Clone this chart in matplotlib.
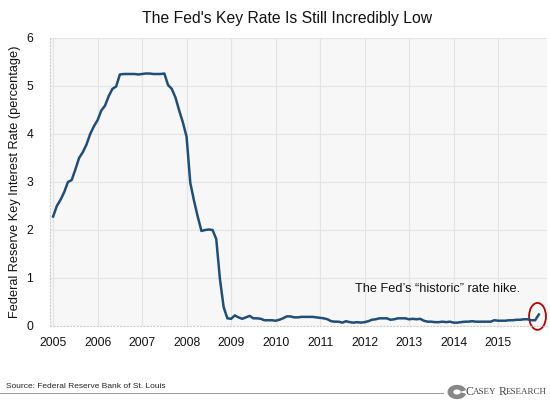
import matplotlib
matplotlib.use("Agg")
import matplotlib.pyplot as plt
from matplotlib.patches import Ellipse, Wedge
import numpy as np

plt.rcParams['font.family'] = ['Liberation Sans', 'DejaVu Sans']

years = [2005, 2006, 2007, 2008, 2009, 2010, 2011, 2012, 2013, 2014, 2015]
rates = [
    2.28, 2.50, 2.63, 2.79, 3.00, 3.04, 3.26, 3.50, 3.62, 3.78, 4.00, 4.16,
    4.29, 4.49, 4.59, 4.79, 4.94, 4.99, 5.24, 5.25, 5.25, 5.25, 5.25, 5.24,
    5.25, 5.26, 5.26, 5.25, 5.25, 5.25, 5.26, 5.02, 4.94, 4.76, 4.49, 4.24,
    3.94, 2.98, 2.61, 2.28, 1.98, 2.00, 2.01, 2.00, 1.81, 0.97, 0.39, 0.16,
    0.15, 0.22, 0.18, 0.15, 0.18, 0.21, 0.16, 0.16, 0.15, 0.12, 0.12, 0.12,
    0.11, 0.13, 0.16, 0.20, 0.20, 0.18, 0.18, 0.19, 0.19, 0.19, 0.19, 0.18,
    0.17, 0.16, 0.14, 0.10, 0.09, 0.09, 0.07, 0.10, 0.08, 0.07, 0.08, 0.07,
    0.08, 0.10, 0.13, 0.14, 0.16, 0.16, 0.16, 0.13, 0.14, 0.16, 0.16, 0.16,
    0.14, 0.15, 0.14, 0.15, 0.11, 0.09, 0.09, 0.08, 0.08, 0.09, 0.08, 0.09,
    0.07, 0.07, 0.08, 0.09, 0.09, 0.10, 0.09, 0.09, 0.09, 0.09, 0.09, 0.12,
    0.11, 0.11, 0.11, 0.12, 0.12, 0.13, 0.13, 0.14, 0.14, 0.12, 0.12, 0.24,
]
dates = 2005 + np.arange(len(rates)) / 12.0
yticks = [0, 1, 2, 3, 4, 5, 6]

W, H = 550, 401
fig = plt.figure(figsize=(W / 100, H / 100), dpi=100)
fig.patch.set_facecolor('white')

left, right, top, bottom = 50, 547, 38, 326
ax = fig.add_axes([left / W, 1 - bottom / H, (right - left) / W, (bottom - top) / H])
ax.set_facecolor('#f7f7f7')
ax.plot(dates, rates, color='#1f4e79', lw=1.8, solid_joinstyle='round')
ax.set_xlim(2004.93, 2016.1)
ax.set_ylim(0, 6)
ax.set_xticks(years)
ax.set_xticklabels([str(y) for y in years])
ax.set_yticks(yticks)
ax.tick_params(axis='x', length=0, labelsize=8.8, colors='#111111', pad=8)
ax.tick_params(axis='y', length=0, labelsize=8.8, colors='#111111', pad=12)
ax.grid(True, color='#e4e4e4', lw=0.8)
ax.set_axisbelow(True)
for s in ['top', 'right']:
    ax.spines[s].set_visible(False)
for s in ['left', 'bottom']:
    ax.spines[s].set_color('#cccccc')
    ax.spines[s].set_linestyle((0, (1, 2)))
    ax.spines[s].set_linewidth(0.8)
ax.set_ylabel('Federal Reserve Key Interest Rate (percentage)', fontsize=9.2, labelpad=4, color='#111111')

ax.text(2015.49, 0.64, 'The Fed\u2019s \u201chistoric\u201d rate hike.', ha='right', va='bottom',
        fontsize=9.2, color='#111111')
ax.add_patch(Ellipse((dates[-1] - 0.03, 0.2), width=0.38, height=0.56, fill=False,
                     edgecolor='#c00000', lw=1.3, clip_on=False))

fig.text(287.5 / W, 1 - 18 / H, "The Fed's Key Rate Is Still Incredibly Low", ha='center', va='center',
         fontsize=11.3, color='#111111')

fig.text(6 / W, 1 - 387 / H, 'Source: Federal Reserve Bank of St. Louis', ha='left', va='center',
         fontsize=6, color='#222222')
fig.add_artist(plt.Line2D([0, 443 / W], [1 - 393 / H, 1 - 393 / H], color='#999999', lw=0.7))
fig.add_artist(Wedge((457 / W, 1 - 392 / H), 0.016, 20, 340, width=0.008, color='#888888',
                     transform=fig.transFigure))
fig.text(466 / W, 1 - 392 / H, 'C', ha='left', va='center', fontsize=8.5,
         family='Liberation Serif', color='#444444')
fig.text(473 / W, 1 - 392.5 / H, 'ASEY', ha='left', va='center', fontsize=6.5,
         family='Liberation Serif', color='#444444')
fig.text(499 / W, 1 - 392 / H, 'R', ha='left', va='center', fontsize=8.5,
         family='Liberation Serif', color='#444444')
fig.text(506 / W, 1 - 392.5 / H, 'ESEARCH', ha='left', va='center', fontsize=6.5,
         family='Liberation Serif', color='#444444')

fig.savefig('out.png', dpi=100)
